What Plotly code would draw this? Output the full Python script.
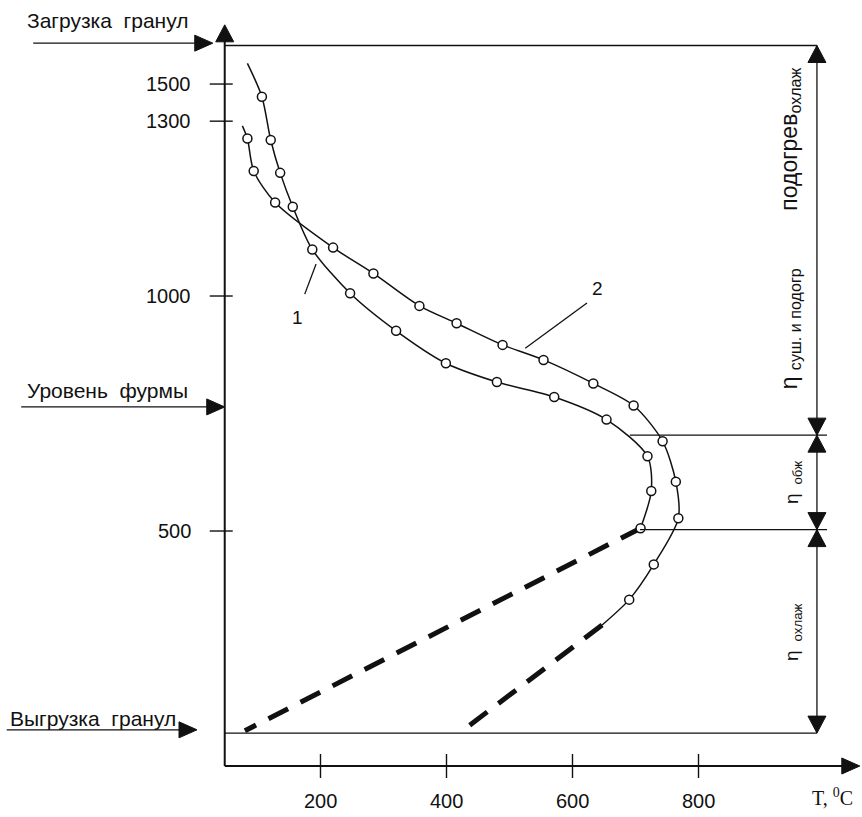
import plotly.graph_objects as go

# ---- data: temperature of granules (°C) along the height of the unit ----
# curve 1
c1_T = [107, 121, 136, 156, 187, 247, 320, 399, 480, 571, 654, 719, 725, 708]
c1_H = [1424, 1332, 1262, 1190, 1099, 1006, 926, 857, 817, 785, 737, 659, 585, 506]
c1_start = (84, 1495)

# curve 2
c2_T = [84, 94, 128, 220, 284, 357, 416, 489, 554, 633, 697, 743, 764, 768, 729, 690]
c2_H = [1335, 1266, 1199, 1103, 1048, 979, 942, 896, 864, 814, 767, 691, 605, 527, 429, 354]
c2_start = (76, 1362)
c2_end = (647, 300)

# extrapolated cooling lines (dashed)
cool1_T = [708, 80]
cool1_H = [506, 75]
cool2_T = [647, 429]
cool2_H = [300, 79]

# axes
x_ticks = [200, 400, 600, 800]
y_tick_vals = [500, 1000, 1372, 1451]
y_tick_text = ["500", "1000", "1300", "1500"]

# characteristic levels of the unit
level_load = 1533
level_tuyere = 764
level_zone_top = 704
level_zone_bottom = 503
level_unload = 70

# frame geometry (data units)
X_MIN, X_MAX = -308.7, 1059.5
Y_MIN, Y_MAX = -108.5, 1629.8
AXIS_X = 48          # position of the height axis
DIM_X = 988          # vertical dimension line on the right
ZONE_END = 1004
X_ARROW_END = 1056
Y_ARROW_END = 1577

SANS = "Liberation Sans, Arial, sans-serif"
SERIF = "Liberation Serif, Times New Roman, serif"
BLACK = "#111111"
NB = "\u00a0"

fig = go.Figure()

# fitted curves
fig.add_trace(go.Scatter(
    x=[c1_start[0]] + c1_T, y=[c1_start[1]] + c1_H,
    mode="lines", line=dict(color=BLACK, width=1.5, shape="spline", smoothing=0.8),
    hoverinfo="skip"))
fig.add_trace(go.Scatter(
    x=[c2_start[0]] + c2_T + [c2_end[0]], y=[c2_start[1]] + c2_H + [c2_end[1]],
    mode="lines", line=dict(color=BLACK, width=1.5, shape="spline", smoothing=0.8),
    hoverinfo="skip"))

# dashed cooling lines
for tx, hy in ((cool1_T, cool1_H), (cool2_T, cool2_H)):
    fig.add_trace(go.Scatter(
        x=tx, y=hy, mode="lines",
        line=dict(color=BLACK, width=5, dash="22px,14px"),
        hoverinfo="skip"))

# measured points
for tx, hy in ((c1_T, c1_H), (c2_T, c2_H)):
    fig.add_trace(go.Scatter(
        x=tx, y=hy, mode="markers",
        marker=dict(symbol="circle", size=9, color="white",
                    line=dict(color=BLACK, width=1.5))))

shapes = []


def seg(x0, y0, x1, y1, w=1.4):
    shapes.append(dict(type="line", xref="x", yref="y", x0=x0, y0=y0, x1=x1, y1=y1,
                       line=dict(color=BLACK, width=w)))


def head(x, y, direction, length=17, half=9):
    # filled arrow head with its tip at (x, y); sizes in pixels
    if direction == "up":
        p = f"M0,0 L{-half},{-length} L{half},{-length} Z"
    elif direction == "down":
        p = f"M0,0 L{-half},{length} L{half},{length} Z"
    else:  # right
        p = f"M0,0 L{-length},{half} L{-length},{-half} Z"
    shapes.append(dict(type="path", xref="x", yref="y",
                       xsizemode="pixel", ysizemode="pixel",
                       xanchor=x, yanchor=y, path=p,
                       fillcolor=BLACK, line=dict(color=BLACK, width=1)))


def tick(x, y, horizontal, a, b):
    if horizontal:
        shapes.append(dict(type="line", xref="x", yref="y", xsizemode="pixel",
                           xanchor=x, x0=a, x1=b, y0=y, y1=y,
                           line=dict(color=BLACK, width=1.4)))
    else:
        shapes.append(dict(type="line", xref="x", yref="y", ysizemode="pixel",
                           yanchor=y, y0=a, y1=b, x0=x, x1=x,
                           line=dict(color=BLACK, width=1.4)))


# main axes
seg(AXIS_X, 0, X_ARROW_END - 20, 0, 2)
head(X_ARROW_END, 0, "right", length=18, half=8)
seg(AXIS_X, 0, AXIS_X, Y_ARROW_END - 20, 2)
head(AXIS_X, Y_ARROW_END, "up", length=17, half=9)

for v in x_ticks:
    tick(v, 0, False, -12, 12)
for v in y_tick_vals:
    tick(AXIS_X, v, True, -15, 8)

# level lines
seg(AXIS_X, level_load, DIM_X, level_load)
seg(AXIS_X, level_unload, DIM_X, level_unload)
seg(691, level_zone_top, ZONE_END, level_zone_top)
seg(707, level_zone_bottom, ZONE_END, level_zone_bottom)

# dimension line with arrow heads
seg(DIM_X, level_unload, DIM_X, level_load, 1.3)
head(DIM_X, level_load, "up")
head(DIM_X, level_zone_top, "down")
head(DIM_X, level_zone_top, "up")
head(DIM_X, level_zone_bottom, "down")
head(DIM_X, level_zone_bottom, "up")
head(DIM_X, level_unload, "down")

# pointers on the left
seg(-256, 1538, 10, 1538, 1.3)
head(29, 1538, "right", length=18, half=8)
seg(-275, level_tuyere, 30, level_tuyere, 1.3)
head(AXIS_X, level_tuyere, "right", length=18, half=8)
seg(-298, 77, -20, 77, 1.3)
head(4, 77, "right", length=18, half=8)

# leaders for curve numbers
seg(175, 1004, 193, 1068, 1.3)
seg(623, 985, 525, 889, 1.3)

annotations = []


def text(x, y, s, size=20, xanchor="center", family=SANS, angle=0, xshift=0, yshift=0):
    annotations.append(dict(x=x, y=y, xref="x", yref="y", text=s, showarrow=False,
                            xanchor=xanchor, yanchor="middle", textangle=angle,
                            xshift=xshift, yshift=yshift,
                            font=dict(family=family, size=size, color=BLACK)))


for v in x_ticks:
    text(v, 0, str(v), yshift=-35)
for v, s in zip(y_tick_vals, y_tick_text):
    text(AXIS_X, v, s, xanchor="right", xshift=-32)

text(1012, -66, "T, <sup>0</sup>C", size=20, family=SERIF)

text(-269, 1587, f"Загрузка{NB}{NB}гранул", size=21, xanchor="left")
text(-269, 800, f"Уровень{NB}{NB}фурмы", size=21, xanchor="left")
text(-296, 102, f"Выгрузка{NB}{NB}гранул", size=21, xanchor="left")

text(163, 955, "1", size=19)
text(640, 1015, "2", size=19)

text(946, 1145,
     f"η{NB}<sub>суш. и подогр</sub>{NB * 9}подогрев<sub>охлаж</sub>",
     size=23, angle=-90)
text(950, 602, f"η{NB}<sub>{NB}обж</sub>", size=19, angle=-90)
text(950, 285, f"η{NB}<sub>{NB}охлаж</sub>", size=19, angle=-90)

fig.update_layout(
    width=862, height=817,
    margin=dict(l=0, r=0, t=0, b=0),
    paper_bgcolor="white", plot_bgcolor="white",
    showlegend=False,
    xaxis=dict(range=[X_MIN, X_MAX], visible=False, fixedrange=True),
    yaxis=dict(range=[Y_MIN, Y_MAX], visible=False, fixedrange=True),
    shapes=shapes,
    annotations=annotations,
)

fig.write_html("out.html")
